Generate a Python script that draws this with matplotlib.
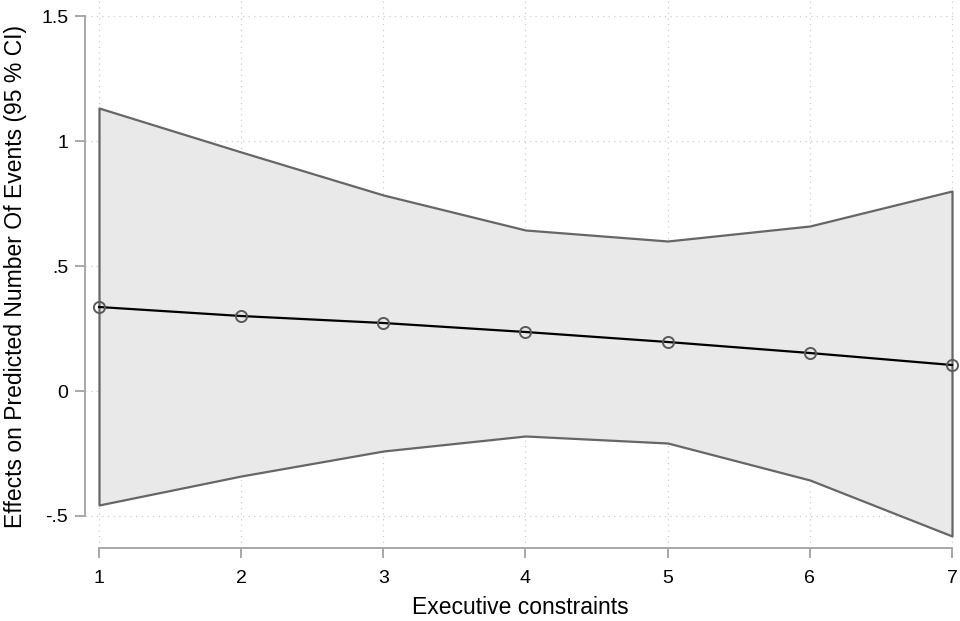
import matplotlib
matplotlib.use("Agg")
import matplotlib.pyplot as plt
import numpy as np

plt.rcParams["font.family"] = ["Liberation Sans", "DejaVu Sans"]

# Marginal effects by level of executive constraints, with 95% CI bounds
constraints = [1, 2, 3, 4, 5, 6, 7]
effect = [0.336, 0.300, 0.272, 0.236, 0.196, 0.152, 0.104]
ci_upper = [1.132, 0.956, 0.784, 0.644, 0.600, 0.660, 0.800]
ci_lower = [-0.456, -0.340, -0.240, -0.180, -0.208, -0.356, -0.580]

y_ticks = [-0.5, 0, 0.5, 1, 1.5]
y_ticklabels = ["-.5", "0", ".5", "1", "1.5"]

W, H = 960, 621
fig = plt.figure(figsize=(W / 100, H / 100), dpi=100)
# axes box in pixels: left 85, right 956, top 0, bottom 548
ax = fig.add_axes([85 / W, (H - 548) / H, (956 - 85) / W, 548 / H])

ax.set_xlim(1 - 14 / 142.17, 7 + 4 / 142.17)
ax.set_ylim(-0.5 - 32 / 250, 1.5 + 16 / 250)

grid_kw = dict(color="#cccccc", lw=0.9, ls=(0, (1, 3.5)), zorder=0)
for yv in y_ticks:
    ax.axhline(yv, **grid_kw)
for xv in constraints:
    ax.axvline(xv, **grid_kw)

ax.fill_between(constraints, ci_lower, ci_upper, facecolor="#e9e9e9",
                edgecolor="#666666", lw=1.6, zorder=2)
ax.plot(constraints, effect, color="black", lw=1.6, zorder=3)
ax.plot(constraints, effect, ls="none", marker="o", ms=8, mfc="none",
        mec="#5a5a5a", mew=1.4, zorder=4, clip_on=False)

for side in ("top", "right"):
    ax.spines[side].set_visible(False)
ax.spines["left"].set_bounds(-0.5, 1.5)
ax.spines["bottom"].set_bounds(1, 7)
for side in ("left", "bottom"):
    ax.spines[side].set_color("#a8a8a8")
    ax.spines[side].set_linewidth(1.4)

ax.set_yticks(y_ticks)
ax.set_yticklabels(y_ticklabels)
ax.set_xticks(constraints)
ax.tick_params(axis="both", color="#a8a8a8", width=1.4, length=7,
               labelsize=14, labelcolor="black")
ax.tick_params(axis="x", pad=9)
ax.tick_params(axis="y", pad=5)

ax.set_xlabel("Executive constraints", fontsize=16.5, labelpad=6)
fig.text(16 / W, 1 - 277 / H, "Effects on Predicted Number Of Events (95 % CI)",
         rotation=90, ha="center", va="center", fontsize=16.5)

fig.savefig("out.png", dpi=100)
